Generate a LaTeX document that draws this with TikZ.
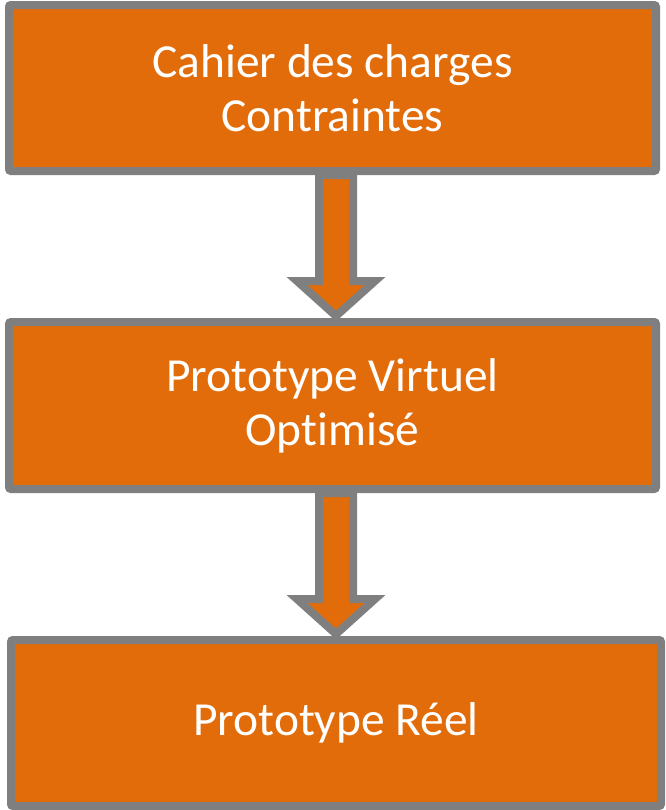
\documentclass[tikz,border=0pt]{standalone}
\usepackage{fontspec}
\setmainfont{Carlito}[Ligatures={NoCommon}]
\usetikzlibrary{calc}
\definecolor{boxorange}{HTML}{E36C0A}
\definecolor{boxgray}{HTML}{7F7F7F}
\tikzset{
  stagebox/.style={draw=boxgray, fill=boxorange, line width=6pt, rounded corners=1.5pt,
    text=white, align=center, inner sep=0pt,
    font=\fontsize{35.6}{40.5}\selectfont},
  blockarrow/.style={draw=boxgray, fill=boxorange, line width=6pt, line join=miter}
}
\begin{document}
\begin{tikzpicture}[x=0.75pt,y=-0.75pt]
\useasboundingbox (0,0) rectangle (665,810);
\node[stagebox, minimum width=485.25pt, minimum height=124.5pt] (b1) at (332.5,88) {Cahier des charges\\Contraintes};
\node[stagebox, minimum width=485.25pt, minimum height=125.25pt] (b2) at (332.5,405.5) {Prototype Virtuel\\Optimisé};
\node[stagebox, minimum width=487.5pt, minimum height=124.5pt] (b3) at (336,723) {Prototype Réel};
\path (b1.south) ++(3.5,0) coordinate (t1) (b2.north) ++(3.5,-2) coordinate (h1);
\path (b2.south) ++(3.5,0) coordinate (t2) (b3.north) ++(0,-2) coordinate (h2);
\draw[blockarrow] ($(t1)+(-17,0)$) -- ($(h1)+(-17,-35)$) -- ($(h1)+(-39,-35)$) -- (h1)
  -- ($(h1)+(39,-35)$) -- ($(h1)+(17,-35)$) -- ($(t1)+(17,0)$) -- cycle;
\draw[blockarrow] ($(t2)+(-17,0)$) -- ($(h2)+(-17,-35)$) -- ($(h2)+(-39,-35)$) -- (h2)
  -- ($(h2)+(39,-35)$) -- ($(h2)+(17,-35)$) -- ($(t2)+(17,0)$) -- cycle;
\end{tikzpicture}
\end{document}
